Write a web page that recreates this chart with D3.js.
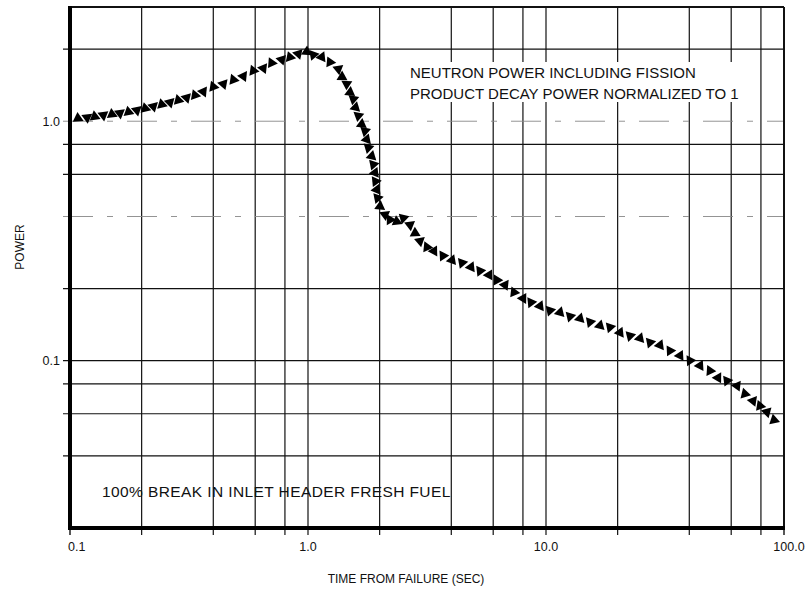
<!DOCTYPE html>
<html>
<head>
<meta charset="utf-8">
<script src="https://cdn.jsdelivr.net/npm/d3@7"></script>
<style>
	body { margin: 0; background: #fff; }
	text { font-family: "Liberation Sans", Arial, Helvetica, sans-serif; fill: #111; }
</style>
</head>
<body>
<div id="chart"></div>
<script>

///////////////////////////////////////////////////////////////////////////
//////////////////////////////// The data /////////////////////////////////
///////////////////////////////////////////////////////////////////////////

//Time from failure (sec), one value per triangle marker
var timeSec = [0.108,0.118,0.127,0.138,0.150,0.162,0.176,0.191,0.207,0.224,
	0.243,0.263,0.285,0.309,0.335,0.363,0.400,0.441,0.486,0.535,
	0.589,0.649,0.703,0.775,0.840,0.910,0.987,1.053,1.142,1.237,
	1.341,1.39,1.454,1.502,1.55,1.584,1.627,1.681,1.736,1.765,
	1.792,1.852,1.881,1.912,1.921,1.944,1.959,2.007,2.106,2.21,
	2.36,2.515,2.683,2.817,2.955,3.162,3.383,3.69,4.027,4.437,
	4.84,5.28,5.76,6.225,6.725,7.337,8.008,8.65,9.436,10.39,
	11.45,12.62,13.9,15.31,16.86,18.57,20.46,22.54,24.83,27.35,
	30.13,33.19,36.56,40.27,44.36,48.87,52.8,57.6,63.5,68.5,
	74.1,79.3,84.8,90.8]

//Normalized power
var power = [1.029,1.036,1.046,1.06,1.070,1.080,1.094,1.112,1.131,1.153,
	1.175,1.198,1.225,1.253,1.286,1.328,1.393,1.43,1.491,1.541,
	1.626,1.665,1.753,1.81,1.852,1.912,1.95,1.894,1.852,1.765,
	1.654,1.531,1.43,1.32,1.237,1.142,1.053,0.971,0.91,0.840,
	0.775,0.715,0.660,0.609,0.561,0.518,0.478,0.441,0.407,0.388,
	0.381,0.394,0.369,0.341,0.316,0.298,0.287,0.274,0.263,0.256,
	0.246,0.237,0.228,0.217,0.207,0.193,0.182,0.175,0.169,0.162,
	0.159,0.153,0.150,0.145,0.140,0.138,0.131,0.127,0.124,0.119,
	0.116,0.110,0.105,0.100,0.0953,0.0908,0.0848,0.0824,0.0785,0.0727,
	0.0679,0.0647,0.061,0.0565]

//Grid positions and labels
var xGrid = [0.2,0.4,0.6,0.8,1,2,4,6,8,10,20,40,60,80]
var yGrid = [2,1,0.8,0.6,0.4,0.2,0.1,0.08,0.06,0.04]
var yDashed = [1,0.4]
var xTickLabels = [[0.1,"0.1"],[1,"1.0"],[10,"10.0"],[100,"100.0"]]
var yTickLabels = [[1,"1.0"],[0.1,"0.1"]]

var noteTop = ["NEUTRON POWER INCLUDING FISSION", "PRODUCT DECAY POWER NORMALIZED TO 1"]
var noteBottom = "100% BREAK IN INLET HEADER FRESH FUEL"

///////////////////////////////////////////////////////////////////////////
//////////////////////////// Set up the svg ///////////////////////////////
///////////////////////////////////////////////////////////////////////////

var width = 806,
	height = 590
var plotL = 70, plotR = 784, plotT = 7, plotB = 528

var svg = d3.select("#chart").append("svg")
	.attr("width", width)
	.attr("height", height)

var xScale = d3.scaleLog()
	.domain([0.1, 100])
	.range([plotL, plotR])

var yScale = d3.scaleLog()
	.domain([0.02, 3])
	.range([plotB, plotT])

///////////////////////////////////////////////////////////////////////////
///////////////////////////////// Grid ////////////////////////////////////
///////////////////////////////////////////////////////////////////////////

var grid = svg.append("g")

grid.selectAll(".vgrid")
	.data(xGrid)
	.enter().append("line")
	.attr("x1", d => xScale(d)).attr("x2", d => xScale(d))
	.attr("y1", plotT).attr("y2", plotB + 7)
	.style("stroke", "#111")
	.style("stroke-width", 1.2)

grid.selectAll(".hgrid")
	.data(yGrid)
	.enter().append("line")
	.attr("x1", plotL - 7).attr("x2", plotR)
	.attr("y1", d => yScale(d)).attr("y2", d => yScale(d))
	.style("stroke", d => yDashed.indexOf(d) >= 0 ? "#888" : "#111")
	.style("stroke-width", d => yDashed.indexOf(d) >= 0 ? 0.9 : 1.2)
	.style("stroke-dasharray", d => yDashed.indexOf(d) >= 0 ? "30,14,6,14" : null)

//Little ticks below the bottom axis at the decades
grid.selectAll(".xdec")
	.data([0.1, 100])
	.enter().append("line")
	.attr("x1", d => xScale(d)).attr("x2", d => xScale(d))
	.attr("y1", plotB).attr("y2", plotB + 7)
	.style("stroke", "#111")
	.style("stroke-width", 1.4)

//Frame: thin top and right, heavy left and bottom
svg.append("line").attr("x1", plotL).attr("x2", plotR).attr("y1", plotT).attr("y2", plotT)
	.style("stroke", "#111").style("stroke-width", 2)
svg.append("line").attr("x1", plotR).attr("x2", plotR).attr("y1", plotT).attr("y2", plotB)
	.style("stroke", "#111").style("stroke-width", 2)
svg.append("line").attr("x1", plotL).attr("x2", plotL).attr("y1", plotT - 1).attr("y2", plotB + 2)
	.style("stroke", "#000").style("stroke-width", 4)
svg.append("line").attr("x1", plotL - 2).attr("x2", plotR + 1).attr("y1", plotB).attr("y2", plotB)
	.style("stroke", "#000").style("stroke-width", 4)

///////////////////////////////////////////////////////////////////////////
///////////////////////////////// Labels //////////////////////////////////
///////////////////////////////////////////////////////////////////////////

svg.selectAll(".xlab")
	.data(xTickLabels)
	.enter().append("text")
	.attr("x", (d,i) => xScale(d[0]) + (i == 0 ? -2 : i == 3 ? 5 : 0))
	.attr("y", 551)
	.attr("text-anchor", (d,i) => i == 0 ? "start" : "middle")
	.style("font-size", "12.5px")
	.text(d => d[1])

svg.selectAll(".ylab")
	.data(yTickLabels)
	.enter().append("text")
	.attr("x", 60)
	.attr("y", d => yScale(d[0]) + 4.5)
	.attr("text-anchor", "end")
	.style("font-size", "12.5px")
	.text(d => d[1])

svg.append("text")
	.attr("transform", "translate(24,247) rotate(-90)")
	.attr("text-anchor", "middle")
	.style("font-size", "12px")
	.text("POWER")

svg.append("text")
	.attr("x", 406)
	.attr("y", 583)
	.attr("text-anchor", "middle")
	.style("font-size", "12px")
	.text("TIME FROM FAILURE (SEC)")

//White patch so the grid breaks around the note
svg.append("rect")
	.attr("x", 404).attr("y", 62)
	.attr("width", 342).attr("height", 40)
	.style("fill", "#fff")

svg.selectAll(".note")
	.data(noteTop)
	.enter().append("text")
	.attr("x", 410)
	.attr("y", (d,i) => 78 + i * 21)
	.style("font-size", "15px")
	.text(d => d)

svg.append("text")
	.attr("x", 102)
	.attr("y", 497)
	.style("font-size", "15.5px")
	.style("letter-spacing", "0.4px")
	.text(noteBottom)

///////////////////////////////////////////////////////////////////////////
///////////////////////////// Triangle markers ////////////////////////////
///////////////////////////////////////////////////////////////////////////

var pts = timeSec.map((t,i) => [xScale(t), yScale(power[i])])

var tri = d3.symbol().type(d3.symbolTriangle).size(52)

svg.append("g").selectAll("path")
	.data(pts)
	.enter().append("path")
	.attr("d", tri)
	.attr("transform", function(d,i) {
		var a = pts[Math.max(0, i-1)],
			b = pts[Math.min(pts.length-1, i+1)]
		var ang = Math.atan2(b[1]-a[1], b[0]-a[0]) * 180 / Math.PI
		return "translate(" + d[0] + "," + d[1] + ") rotate(" + (ang + (i % 2 ? 180 : 0)) + ")"
	})
	.style("fill", "#000")

</script>
</body>
</html>
